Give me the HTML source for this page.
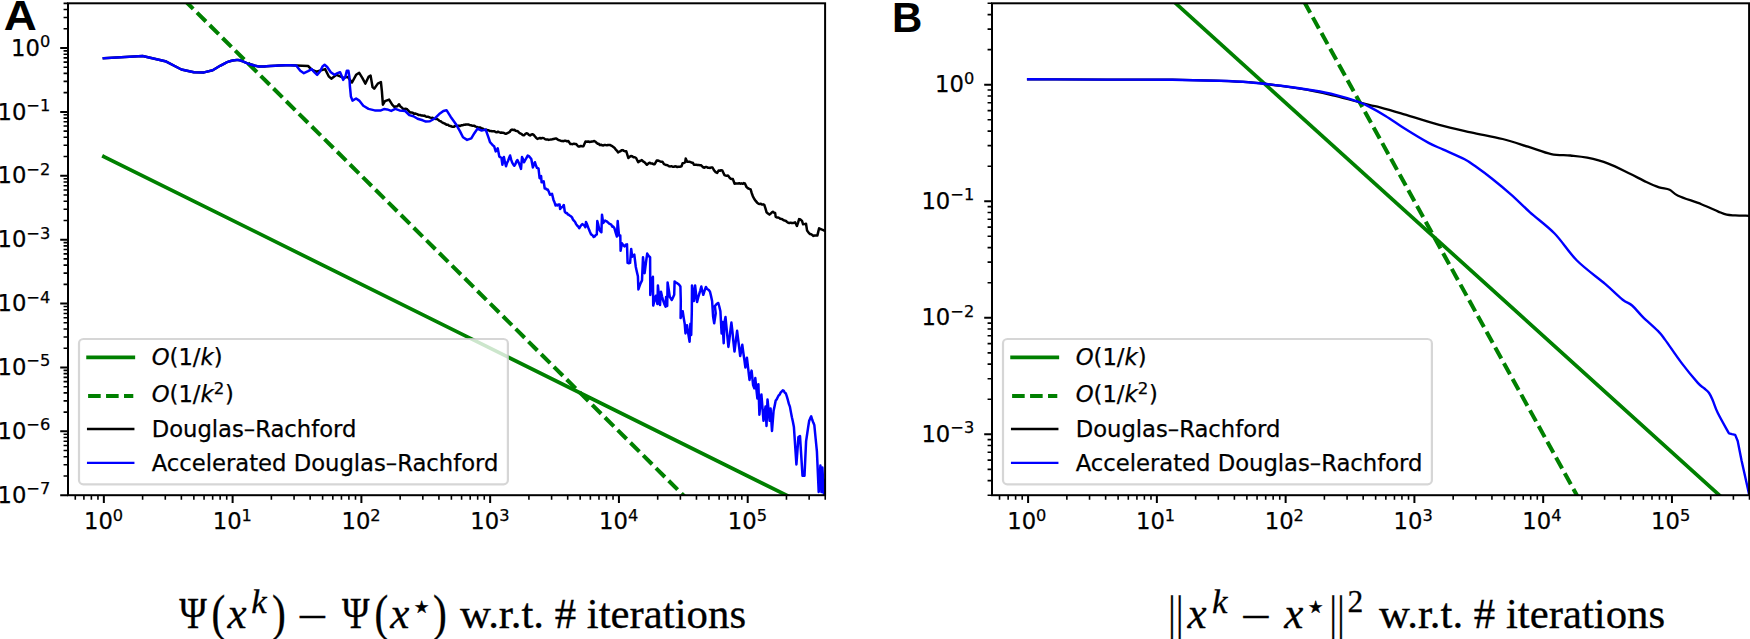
<!DOCTYPE html>
<html><head><meta charset="utf-8"><title>Figure</title>
<style>
html,body{margin:0;padding:0;background:#fff;}
svg{display:block;}
.tl,.lg{font-family:"DejaVu Sans","Liberation Sans",sans-serif;font-size:22.7px;fill:#000;stroke:#000;stroke-width:0.25px;}
.sp{font-size:16.2px;}
.it{font-style:oblique;}
.pl{font-family:"Liberation Sans",sans-serif;font-weight:bold;font-size:42px;fill:#000;}
.cp{font-family:"Liberation Serif",serif;font-size:42px;fill:#000;stroke:#000;stroke-width:0.3px;}
.mi{font-family:"Liberation Serif",serif;font-style:italic;}
</style></head><body>
<svg width="1750" height="639" viewBox="0 0 1750 639">
<rect width="1750" height="639" fill="#fff"/>
<defs>
<clipPath id="ca"><rect x="68.0" y="3.3" width="757.1" height="491.9"/></clipPath>
<clipPath id="cb"><rect x="992.0" y="3.3" width="757.1" height="491.9"/></clipPath>
</defs>
<g clip-path="url(#ca)" fill="none" stroke-linejoin="round">
<path d="M103.85 156.55 L825.23 514.46" stroke="#008000" stroke-width="3.7" stroke-linecap="square"/>
<path d="M184.25 -0 L825.23 636.05" stroke="#008000" stroke-width="4.05" stroke-dasharray="12.6 5.36"/>
<path d="M103.85 58.2 L142.6 56 L165.3 61.2 L181.4 69.5 L193.9 72.3 L204 72.4 L212.7 70.3 L220.1 65.8 L226.7 62.3 L226.7 62.3 C227.68 61.98 230.72 60.78 232.6 60.4 C234.48 60.02 236.28 59.83 238 60 C239.72 60.17 240.9 60.68 242.9 61.4 C244.9 62.12 247.38 63.47 250 64.3 C252.62 65.13 256.22 66.05 258.6 66.4 C260.98 66.75 260.97 66.57 264.3 66.4 C267.63 66.23 274.32 65.58 278.6 65.4 C282.88 65.22 288.1 65.32 290 65.3 L290 65.3 L296.2 65.5 L308.1 66 L311.7 69.6 L316.3 71.7 L325.1 69.1 L328.7 76.3 L331.3 78.7 L336.5 74.8 L343.7 77.9 L347.8 76.9 L352 82.5 L356.1 74.8 L359.2 72.9 L362.3 77.9 L365.4 83.6 L368.5 76.9 L370.6 75.6 L372.6 87.2 L374.2 88.7 L377.8 83.6 L380.9 82 L381.9 91.3 L382.9 104.7 L385 101.1 L389.1 99.6 L392.2 104.7 L394.3 106.8 L397.4 106.3 L399 104.2 L400.5 106.6 L401.8 107.51 L403.1 108.9 L404.3 108.94 L405.5 108.78 L406.7 108.9 L407.9 110.23 L409.1 111.48 L410.3 112.6 L411.52 112.51 L412.73 112.76 L413.95 113.8 L415.17 113.58 L416.38 113.86 L417.6 114.4 L418.74 115.1 L419.89 114.88 L421.03 115.47 L422.18 115.4 L423.32 115.8 L424.47 115.62 L425.61 116.31 L426.76 116.78 L427.9 116.7 L429.04 117.07 L430.19 117.61 L431.33 117.89 L432.48 117.69 L433.62 118.65 L434.77 118.85 L435.91 118.93 L437.06 119.03 L438.2 119.8 L439.44 120.85 L440.68 121.22 L441.92 122.16 L443.16 123.02 L444.4 123.4 L445.6 124.11 L446.8 124.81 L448 124.86 L449.2 125.74 L450.4 125.93 L451.6 126.5 L452.84 126.79 L454.08 126.64 L455.32 125.84 L456.56 125.77 L457.8 126 L458.96 125.55 L460.12 126.02 L461.29 125.34 L462.45 125.31 L463.61 124.82 L464.78 124.81 L465.94 124.5 L467.1 124.4 L468.32 124.5 L469.53 124.94 L470.75 125.18 L471.97 125.7 L473.18 125.73 L474.4 125.8 L475.57 126.59 L476.74 126.92 L477.91 127.44 L479.09 127.55 L480.26 127.5 L481.43 128.52 L482.6 128.6 L483.79 129.38 L484.97 129.68 L486.16 129.73 L487.34 130.22 L488.53 130.13 L489.71 131.04 L490.9 131.1 L492.07 131.32 L493.24 131.22 L494.41 131.18 L495.59 132.05 L496.76 132.33 L497.93 131.67 L499.1 132.2 L500.32 132.72 L501.53 132.62 L502.75 132.64 L503.97 133.01 L505.18 133.69 L506.4 133.7 L508.4 132.7 L509.63 132 L510.87 130.22 L512.1 129.6 L513.25 130.03 L514.4 129.84 L515.55 130.77 L516.7 130.9 L517.9 131.48 L519.1 132.71 L520.3 133.53 L521.5 133.84 L522.7 135.02 L523.9 135.3 L525.2 134.08 L526.5 133.2 L527.7 133.59 L528.9 134.82 L530.1 135.5 L531.4 134.43 L532.7 134.2 L533.88 135.1 L535.05 136.47 L536.23 137.82 L537.4 138.9 L538.67 138.34 L539.95 137.99 L541.23 138.48 L542.5 137.9 L543.74 138.13 L544.98 139.11 L546.22 139.46 L547.46 139.39 L548.7 139.9 L549.9 139.61 L551.1 139.42 L552.3 139.28 L553.5 138.99 L554.7 138.7 L555.9 138.4 L557.2 139.16 L558.5 140.1 L559.8 140.36 L561.1 141 L562.3 140.94 L563.5 141.2 L564.7 140.76 L565.9 140.82 L567.1 141.43 L568.3 141 L570.4 144.1 L571.56 144.12 L572.72 144.14 L573.88 143.66 L575.04 144.02 L576.2 144.1 L578.3 146.5 L579.57 146.5 L580.85 145.92 L582.12 146.38 L583.4 146.2 L585.5 141.5 L586.87 141.79 L588.23 141.44 L589.6 142 L590.77 141.86 L591.95 141.47 L593.12 141.41 L594.3 141 L595.42 141.69 L596.54 142.83 L597.66 143.67 L598.78 143.85 L599.9 145.1 L601.06 144.7 L602.21 145.26 L603.37 145.52 L604.52 144.88 L605.68 145.06 L606.83 145.18 L607.99 144.94 L609.14 144.98 L610.3 145.1 L611.67 145.8 L613.03 146.72 L614.4 147.7 L615.6 149.35 L616.8 150.65 L618 152.4 L619.2 151.59 L620.4 151.25 L621.6 150.3 L622.77 150.12 L623.95 150.86 L625.12 151.26 L626.3 151.3 L628.3 158 L629.6 156.83 L630.9 156 L632.2 156.25 L633.5 157.27 L634.8 157.26 L636.1 158 L638.2 162.2 L639.4 161.22 L640.6 160.74 L641.8 160.1 L643.07 161.45 L644.35 162.09 L645.62 163.46 L646.9 164.8 L648.2 163.6 L649.5 162.7 L650.8 163.38 L652.1 163.39 L653.4 164.14 L654.7 164.2 L656.7 160.6 L657.84 160.52 L658.98 160.89 L660.12 161.4 L661.26 161.83 L662.4 161.7 L664 164.2 L665.27 164.68 L666.55 165 L667.83 165.43 L669.1 166.3 L670.26 166.39 L671.42 166.15 L672.59 166.76 L673.75 166.85 L674.91 166.33 L676.08 166.48 L677.24 167.01 L678.4 166.8 L679.95 166.68 L681.5 166.3 L682.6 163.2 L683.9 162.98 L685.2 162.2 L685.7 158.6 L687.2 161.7 L688.34 161.76 L689.48 161.77 L690.62 162.11 L691.76 162.76 L692.9 162.7 L693.9 164.8 L695.12 164.68 L696.33 164.83 L697.55 164.98 L698.77 165.06 L699.98 165.14 L701.2 165.3 L703.2 167.3 L704.36 167.7 L705.53 167.04 L706.69 166.93 L707.85 167.8 L709.01 167.77 L710.17 167.89 L711.34 167.42 L712.5 167.5 L714.1 170.4 L715.65 172.11 L717.2 173 L718.7 170.4 L719.9 170.78 L721.1 170.15 L722.3 170.4 L724.4 175.1 L725.6 175.49 L726.8 175.74 L728 175.6 L729.3 177.3 L730.6 178.7 L731.75 178.92 L732.9 179.1 L734.6 183.7 L735.74 183.49 L736.89 183.51 L738.03 183.39 L739.18 183.22 L740.32 183.67 L741.47 183.37 L742.61 183.82 L743.76 183.11 L744.9 183.5 L746.6 187.1 L747.93 188.23 L749.27 188.81 L750.6 189.4 L751.75 193.23 L752.9 196.3 L754.3 198.96 L755.7 200.9 L757.15 202.66 L758.6 203.7 L759.74 204.01 L760.88 203.74 L762.02 204.64 L763.16 204.36 L764.3 204.9 L765.45 208.42 L766.6 212.3 L768 213.6 L769.4 214.6 L770.57 213.66 L771.73 212.59 L772.9 211.7 L774 212.7 L775.1 212.9 L775.7 216.9 L776.84 217.4 L777.98 217.56 L779.12 217.88 L780.26 218.83 L781.4 218.9 L782.54 219.48 L783.69 220.35 L784.83 220.57 L785.97 221.03 L787.11 221.93 L788.26 222.79 L789.4 223.1 L790.54 222.64 L791.68 223.04 L792.82 223 L793.96 222.74 L795.1 222.3 L796.9 226 L798 222.84 L799.1 219.1 L800.55 219.56 L802 220.9 L803.1 224.3 L804.55 224.12 L806 223.7 L807.1 230.6 L808.55 232.63 L810 234 L811.13 234.23 L812.27 235.06 L813.4 235.9 L814.73 235.53 L816.07 235.59 L817.4 235.4 L819.1 228.3 L820.25 228.78 L821.4 229.4 L822.6 229.78 L823.8 230.45 L825 230.6" stroke="#000" stroke-width="2.5" stroke-linecap="square"/>
<path d="M103.85 58.2 L142.6 56 L165.3 61.2 L181.4 69.5 L193.9 72.3 L204 72.4 L212.7 70.3 L220.1 65.8 L226.7 62.3 L226.7 62.3 C227.68 61.98 230.72 60.78 232.6 60.4 C234.48 60.02 236.28 59.83 238 60 C239.72 60.17 240.9 60.68 242.9 61.4 C244.9 62.12 247.38 63.47 250 64.3 C252.62 65.13 256.22 66.05 258.6 66.4 C260.98 66.75 260.97 66.57 264.3 66.4 C267.63 66.23 274.32 65.58 278.6 65.4 C282.88 65.22 287.07 65.28 290 65.3 C292.93 65.32 295.17 65.47 296.2 65.5 L296.2 65.5 L300.3 70.7 L303.9 73.2 L308.1 71.2 L311.7 69.1 L314.8 72.7 L317.1 74.8 L319.9 71.7 L322.5 66.5 L324.6 64.8 L327.2 67 L330.8 72.2 L334.4 74.8 L337.5 73.2 L340.1 72.2 L341.6 75.8 L343.2 79.9 L345.3 76.9 L346.8 70.7 L348.4 70.7 L349.4 76.9 L349.9 86.1 L350.9 96.5 L352.5 100.6 L356.1 98.5 L359.2 100.6 L363.3 105.8 L368.5 108.9 L374.7 110.4 L380.9 110.4 L384 109.1 L387.1 109.4 L391.2 110.9 L395.3 108.9 L399.5 110.4 L405.2 111 L409.3 115.1 L413.4 116.2 L417.6 118.8 L422.7 120.3 L425.8 121.6 L429.9 121.3 L435.1 118.2 L439.2 114.1 L443.4 111 L446.5 110.2 L450.6 116.7 L455.8 123.9 L459.9 131.1 L463 137.3 L467.1 139.9 L471.3 138.4 L474.4 133.2 L477.5 128.6 L481.6 130.6 L485.7 129.6 L488.8 138.4 L490 142.1 L491.02 143.27 L492.05 144.44 L493.08 145.53 L494.1 146.2 L495.7 151.4 L496.7 150.38 L497.7 148.3 L499.3 156.5 L500.35 157.34 L501.4 157.6 L502.4 164.8 L503.9 157 L504.95 162.16 L506 166.3 L507.05 162.93 L508.1 160.7 L509.1 158.06 L510.1 155.5 L511.15 159.63 L512.2 162.7 L513.25 164.43 L514.3 165.8 L515.33 164.38 L516.37 161.54 L517.4 160.1 L518.4 162.16 L519.4 164.3 L521 168.9 L522 157 L523.05 159.3 L524.1 162.2 L525.3 160.02 L526.5 157.82 L527.7 155.5 L528.9 156.12 L530.1 157.56 L531.3 159.1 L532.9 167.4 L533.9 164.54 L534.9 162.2 L535.95 165.55 L537 167.9 L538.5 168.4 L539.6 178.2 L541.1 176.1 L541.6 182.3 L542.65 182.12 L543.7 181.3 L544.7 188.5 L545.73 188.46 L546.77 189.59 L547.8 189.6 L548.85 191.72 L549.9 194.7 L550.95 194.34 L552 193.7 L553.5 199.9 L554.5 202.25 L555.5 205.5 L556.52 204.65 L557.55 205.45 L558.58 204.4 L559.6 204.5 L560.1 209.1 L561.33 207.39 L562.57 206.95 L563.8 205 L564.8 211.7 L565.83 212.91 L566.87 212.98 L567.9 214.55 L568.93 214.81 L569.97 215.75 L571 216.3 L572.02 217.37 L573.05 219.68 L574.08 220.8 L575.1 222 L576.12 224.11 L577.15 225.57 L578.18 226.41 L579.2 228.2 L580.23 226.67 L581.27 225.07 L582.3 224.1 L583.33 224.71 L584.37 225.64 L585.4 227.2 L586 222 L587.25 224.86 L588.5 228.2 L589.8 231.42 L591.1 234.4 L592.4 235.1 L593.7 237 L594.73 236.35 L595.77 235.07 L596.8 234.4 L597.3 221 L598.35 225.17 L599.4 229.8 L600.4 231.43 L601.4 232.3 L602 214.8 L603.2 223 L605.1 220.5 L606.12 221.2 L607.14 221.72 L608.16 222.64 L609.18 223.63 L610.2 224.1 L611.25 224.59 L612.3 226.72 L613.35 226.6 L614.4 228.2 L615.65 232.65 L616.9 236.5 L617.7 221 L619 235.4 L620.3 235.5 L620.6 250.7 L621.9 243.3 L623.2 245.26 L624.5 246.4 L625.75 244.77 L627 244.3 L627.6 262.9 L628.85 263.25 L630.1 262.9 L631.2 248.9 L632.2 256.7 L633.25 255.49 L634.3 254.6 L635.8 267 L636.85 271.74 L637.9 276.3 L638.4 289.4 L639.6 285.81 L640.8 282.86 L642 280.4 L643 257.2 L644.6 273.2 L645.9 263.02 L647.2 253.6 L648.65 255.95 L650.1 257.2 L650.3 294.9 L651.3 281.5 L652.9 276.8 L653.2 305.6 L654.5 300.34 L655.8 295.8 L657.4 304.1 L657.9 285.5 L658.95 295.61 L660 305.1 L661 291.7 L662 296.37 L663 300 L664.3 303.88 L665.6 306.7 L666.1 296.9 L667.2 306.1 L667.6 282.4 L668.7 289.46 L669.8 296.9 L670.8 298.28 L671.8 300 L673 297.43 L674.2 294.8 L674.6 281.4 L676.05 282.73 L677.5 283.4 L678.95 284.48 L680.4 286.5 L680.8 301 L680.6 318 L681.65 314.95 L682.7 311.3 L683.7 317.86 L684.7 323.7 L685.5 333.4 L687 325.2 L688.3 333.88 L689.6 341.7 L690.4 323.7 L691.2 335 L691.8 312 L692 285.5 L693 292.69 L694 301 L695.1 285.5 L696.1 294.28 L697.1 302 L698.15 297.63 L699.2 294.06 L700.25 290.51 L701.3 286.5 L702.3 291.15 L703.3 294.8 L704.6 290.71 L705.9 287 L706.92 288.68 L707.95 289.4 L708.98 290.3 L710 291.7 L711.05 296.13 L712.1 301 L713.1 316.5 L714.2 323.2 L715.7 313.4 L714.9 306.1 L716.03 304.68 L717.17 303.53 L718.3 303 L719.35 306.73 L720.4 311.3 L721.6 333.4 L722.5 322 L723.7 343.2 L724.5 322 L725.5 317 L726.95 332.18 L728.4 346.9 L729.4 339.4 L730.4 330.29 L731.4 322.6 L732.43 331.69 L733.47 342.45 L734.5 351.5 L735.8 341.19 L737.1 330.8 L738.13 339.12 L739.17 347.35 L740.2 356.1 L741.25 350.56 L742.3 344.8 L743.33 352.76 L744.37 359.88 L745.4 367.5 L746.9 357.7 L748.2 368.71 L749.5 379.9 L750.55 374.72 L751.6 370.6 L753.1 385.1 L754.3 388.3 L755.3 378.1 L756.35 388.8 L757.4 398.5 L758.4 384.2 L759.4 414.7 L760.4 403.99 L761.4 394.4 L762.45 407.59 L763.5 420.8 L764.5 414.11 L765.5 406.6 L766.5 425.9 L767.5 399.5 L768.55 409.71 L769.6 420.8 L770.6 408.6 L772 431 L773.6 410.7 L774.65 405.88 L775.7 400.5 L776.7 399.34 L777.7 397.26 L778.7 395.4 L779.73 394.47 L780.75 392.38 L781.77 391.5 L782.8 390.3 L783.8 390.91 L784.8 392.78 L785.8 393.4 L786.82 396.45 L787.85 399.94 L788.88 403.9 L789.9 406.6 L790.9 412.1 L791.9 417.32 L792.9 421.77 L793.9 426.9 L795.15 445.69 L796.4 464.5 L797.4 451.08 L798.4 437.1 L800 436.1 L801.25 455.87 L802.5 475.7 L803.5 475.45 L804.5 475.7 L806.1 441.1 L807.13 434.22 L808.17 427.14 L809.2 420.8 L810.2 418.4 L811.2 416.3 L812.23 419.75 L813.27 422.59 L814.3 424.9 L815.6 438.25 L816.9 451.3 L818.7 492 L820.4 465.5 L821.4 492 L822.4 467.6 L823.8 494 L825 480" stroke="#0000ff" stroke-width="2.5" stroke-linecap="square"/>
</g>
<rect x="79" y="339" width="428.9" height="145.3" rx="4.4" ry="4.4" fill="#fff" fill-opacity="0.8" stroke="#ccc" stroke-opacity="0.8" stroke-width="2.2"/>
<path d="M88.1 357.4H133.3" stroke="#008000" stroke-width="3.7" stroke-linecap="square"/>
<path d="M88.1 395.9H133.3" stroke="#008000" stroke-width="4.05" stroke-dasharray="12.6 5.36" stroke-linecap="butt"/>
<path d="M88.1 429H133.3" stroke="#000" stroke-width="2.3" stroke-linecap="square"/>
<path d="M88.1 462.9H133.3" stroke="#0000ff" stroke-width="2.3" stroke-linecap="square"/>
<text class="lg" x="151.7" y="365.4"><tspan class="it">O</tspan>(1/<tspan class="it">k</tspan>)</text>
<text class="lg" x="151.7" y="402.3"><tspan class="it">O</tspan>(1/<tspan class="it">k</tspan><tspan class="sp" dy="-8.4" style="font-size:16.6px">2</tspan><tspan dy="8.4" dx="0.8">)</tspan></text>
<text class="lg" x="151.7" y="437.0">Douglas–Rachford</text>
<text class="lg" x="151.7" y="470.7">Accelerated Douglas–Rachford</text>
<path d="M103.85 495.2v7.8M232.62 495.2v7.8M361.39 495.2v7.8M490.16 495.2v7.8M618.93 495.2v7.8M747.7 495.2v7.8" stroke="#000" stroke-width="2" fill="none"/>
<path d="M75.28 495.2v4.44M83.9 495.2v4.44M91.37 495.2v4.44M97.96 495.2v4.44M142.61 495.2v4.44M165.29 495.2v4.44M181.38 495.2v4.44M193.86 495.2v4.44M204.05 495.2v4.44M212.67 495.2v4.44M220.14 495.2v4.44M226.73 495.2v4.44M271.38 495.2v4.44M294.06 495.2v4.44M310.15 495.2v4.44M322.63 495.2v4.44M332.82 495.2v4.44M341.44 495.2v4.44M348.91 495.2v4.44M355.5 495.2v4.44M400.15 495.2v4.44M422.83 495.2v4.44M438.92 495.2v4.44M451.4 495.2v4.44M461.59 495.2v4.44M470.21 495.2v4.44M477.68 495.2v4.44M484.27 495.2v4.44M528.92 495.2v4.44M551.6 495.2v4.44M567.69 495.2v4.44M580.17 495.2v4.44M590.36 495.2v4.44M598.98 495.2v4.44M606.45 495.2v4.44M613.04 495.2v4.44M657.69 495.2v4.44M680.37 495.2v4.44M696.46 495.2v4.44M708.94 495.2v4.44M719.13 495.2v4.44M727.75 495.2v4.44M735.22 495.2v4.44M741.81 495.2v4.44M786.46 495.2v4.44M809.14 495.2v4.44M825.23 495.2v4.44" stroke="#000" stroke-width="1.6" fill="none"/>
<path d="M68 495.23h-7.8M68 431.34h-7.8M68 367.45h-7.8M68 303.56h-7.8M68 239.67h-7.8M68 175.78h-7.8M68 111.89h-7.8M68 48h-7.8" stroke="#000" stroke-width="2" fill="none"/>
<path d="M68 476h-4.44M68 464.75h-4.44M68 456.76h-4.44M68 450.57h-4.44M68 445.51h-4.44M68 441.24h-4.44M68 437.53h-4.44M68 434.26h-4.44M68 412.11h-4.44M68 400.86h-4.44M68 392.87h-4.44M68 386.68h-4.44M68 381.62h-4.44M68 377.35h-4.44M68 373.64h-4.44M68 370.37h-4.44M68 348.22h-4.44M68 336.97h-4.44M68 328.98h-4.44M68 322.79h-4.44M68 317.73h-4.44M68 313.46h-4.44M68 309.75h-4.44M68 306.48h-4.44M68 284.33h-4.44M68 273.08h-4.44M68 265.09h-4.44M68 258.9h-4.44M68 253.84h-4.44M68 249.57h-4.44M68 245.86h-4.44M68 242.59h-4.44M68 220.44h-4.44M68 209.19h-4.44M68 201.2h-4.44M68 195.01h-4.44M68 189.95h-4.44M68 185.68h-4.44M68 181.97h-4.44M68 178.7h-4.44M68 156.55h-4.44M68 145.3h-4.44M68 137.31h-4.44M68 131.12h-4.44M68 126.06h-4.44M68 121.79h-4.44M68 118.08h-4.44M68 114.81h-4.44M68 92.66h-4.44M68 81.41h-4.44M68 73.42h-4.44M68 67.23h-4.44M68 62.17h-4.44M68 57.9h-4.44M68 54.19h-4.44M68 50.92h-4.44M68 28.77h-4.44M68 17.52h-4.44M68 9.53h-4.44M68 3.34h-4.44" stroke="#000" stroke-width="1.6" fill="none"/>
<text class="tl" x="103.55" y="529.4" text-anchor="middle">10<tspan class="sp" dy="-8.7">0</tspan></text>
<text class="tl" x="232.32" y="529.4" text-anchor="middle">10<tspan class="sp" dy="-8.7">1</tspan></text>
<text class="tl" x="361.09" y="529.4" text-anchor="middle">10<tspan class="sp" dy="-8.7">2</tspan></text>
<text class="tl" x="489.86" y="529.4" text-anchor="middle">10<tspan class="sp" dy="-8.7">3</tspan></text>
<text class="tl" x="618.63" y="529.4" text-anchor="middle">10<tspan class="sp" dy="-8.7">4</tspan></text>
<text class="tl" x="747.4" y="529.4" text-anchor="middle">10<tspan class="sp" dy="-8.7">5</tspan></text>
<text class="tl" x="50.2" y="502.93" text-anchor="end">10<tspan class="sp" dy="-8.7">−7</tspan></text>
<text class="tl" x="50.2" y="439.04" text-anchor="end">10<tspan class="sp" dy="-8.7">−6</tspan></text>
<text class="tl" x="50.2" y="375.15" text-anchor="end">10<tspan class="sp" dy="-8.7">−5</tspan></text>
<text class="tl" x="50.2" y="311.26" text-anchor="end">10<tspan class="sp" dy="-8.7">−4</tspan></text>
<text class="tl" x="50.2" y="247.37" text-anchor="end">10<tspan class="sp" dy="-8.7">−3</tspan></text>
<text class="tl" x="50.2" y="183.48" text-anchor="end">10<tspan class="sp" dy="-8.7">−2</tspan></text>
<text class="tl" x="50.2" y="119.59" text-anchor="end">10<tspan class="sp" dy="-8.7">−1</tspan></text>
<text class="tl" x="50.2" y="55.7" text-anchor="end">10<tspan class="sp" dy="-8.7">0</tspan></text>
<rect x="68" y="3.3" width="757.1" height="491.9" fill="none" stroke="#000" stroke-width="2"/>
<g clip-path="url(#cb)" fill="none" stroke-linejoin="round">
<path d="M1028.1 -130.23 L1749.48 522.46" stroke="#008000" stroke-width="3.7" stroke-linecap="square"/>
<path d="M1304.11 1.66 L1749.48 807.58" stroke="#008000" stroke-width="4.05" stroke-dasharray="12.6 5.36"/>
<path d="M1028.1 79.3 C1032.75 79.32 1042.85 79.35 1056 79.4 C1069.15 79.45 1087.62 79.55 1107 79.6 C1126.38 79.65 1154.17 79.52 1172.3 79.7 C1190.43 79.88 1203.12 80.28 1215.8 80.7 C1228.48 81.12 1237.53 81.33 1248.4 82.2 C1259.27 83.07 1270.12 84.43 1281 85.9 C1291.88 87.37 1304.63 89.33 1313.7 91 C1322.77 92.67 1326.33 93.63 1335.4 95.9 C1344.47 98.17 1360.67 102.7 1368.1 104.6 C1375.53 106.5 1374.5 105.85 1380 107.3 C1385.5 108.75 1391.23 110.37 1401.1 113.3 C1410.97 116.23 1427.57 121.73 1439.2 124.9 C1450.83 128.07 1460.33 129.95 1470.9 132.3 C1481.47 134.65 1493.08 136.6 1502.6 139 C1512.12 141.4 1519.9 144.18 1528 146.7 C1536.1 149.22 1544.15 152.63 1551.2 154.1 C1558.25 155.57 1564.3 154.9 1570.3 155.5 C1576.3 156.1 1580.87 156.35 1587.2 157.7 C1593.53 159.05 1601.25 160.97 1608.3 163.6 C1615.35 166.23 1623.15 170.43 1629.5 173.5 C1635.85 176.57 1641.47 179.7 1646.4 182 C1651.33 184.3 1655.23 186 1659.1 187.3 C1662.97 188.6 1666.43 188.4 1669.6 189.8 C1672.77 191.2 1672.8 193.3 1678.1 195.7 C1683.4 198.1 1694.7 201.55 1701.4 204.2 C1708.1 206.85 1714.08 209.85 1718.3 211.6 C1722.52 213.35 1723.88 214.07 1726.7 214.7 C1729.52 215.33 1731.48 215.22 1735.2 215.4 C1738.92 215.58 1746.7 215.73 1749 215.8" stroke="#000" stroke-width="2.3" stroke-linecap="square"/>
<path d="M1028.1 79.3 C1032.75 79.32 1042.85 79.35 1056 79.4 C1069.15 79.45 1087.62 79.55 1107 79.6 C1126.38 79.65 1154.17 79.52 1172.3 79.7 C1190.43 79.88 1203.12 80.28 1215.8 80.7 C1228.48 81.12 1237.53 81.37 1248.4 82.2 C1259.27 83.03 1270.12 84.32 1281 85.7 C1291.88 87.08 1304.63 88.98 1313.7 90.5 C1322.77 92.02 1328.15 93 1335.4 94.8 C1342.65 96.6 1351.75 99.42 1357.2 101.3 C1362.65 103.18 1363.38 103.67 1368.1 106.1 C1372.82 108.53 1379.28 112.07 1385.5 115.9 C1391.72 119.73 1398.22 124.6 1405.4 129.1 C1412.58 133.6 1422.27 139.48 1428.6 142.9 C1434.93 146.32 1437.4 146.87 1443.4 149.6 C1449.4 152.33 1459.32 156.55 1464.6 159.3 C1469.88 162.05 1470.52 162.85 1475.1 166.1 C1479.68 169.35 1486.1 174.03 1492.1 178.8 C1498.1 183.57 1504.78 189.12 1511.1 194.7 C1517.42 200.28 1522.75 205.83 1530 212.3 C1537.25 218.77 1546.78 225.47 1554.6 233.5 C1562.42 241.53 1568.48 252.1 1576.9 260.5 C1585.32 268.9 1597.47 277.37 1605.1 283.9 C1612.73 290.43 1618.2 296.1 1622.7 299.7 C1627.2 303.3 1628.77 302.65 1632.1 305.5 C1635.43 308.35 1638.4 312.57 1642.7 316.8 C1647 321.03 1654.18 327.1 1657.9 330.9 C1661.62 334.7 1661.1 334.32 1665 339.6 C1668.9 344.88 1675.87 355.43 1681.3 362.6 C1686.73 369.77 1693.82 378.33 1697.6 382.6 C1701.38 386.87 1702.12 386.5 1704 388.2 C1705.88 389.9 1707.45 390.8 1708.9 392.8 C1710.35 394.8 1711.23 396.88 1712.7 400.2 C1714.17 403.52 1715 407.18 1717.7 412.7 C1720.4 418.22 1727.03 429.87 1728.9 433.3 L1728.9 433.3 L1732 434.2 L1735.2 434.9 L1737.7 441 L1741.5 460.3 L1747.7 487.9 L1749 494" stroke="#0000ff" stroke-width="2.4" stroke-linecap="square"/>
</g>
<rect x="1003" y="339" width="428.9" height="145.3" rx="4.4" ry="4.4" fill="#fff" fill-opacity="0.8" stroke="#ccc" stroke-opacity="0.8" stroke-width="2.2"/>
<path d="M1012.1 357.4H1057.3" stroke="#008000" stroke-width="3.7" stroke-linecap="square"/>
<path d="M1012.1 395.9H1057.3" stroke="#008000" stroke-width="4.05" stroke-dasharray="12.6 5.36" stroke-linecap="butt"/>
<path d="M1012.1 429H1057.3" stroke="#000" stroke-width="2.3" stroke-linecap="square"/>
<path d="M1012.1 462.9H1057.3" stroke="#0000ff" stroke-width="2.3" stroke-linecap="square"/>
<text class="lg" x="1075.7" y="365.4"><tspan class="it">O</tspan>(1/<tspan class="it">k</tspan>)</text>
<text class="lg" x="1075.7" y="402.3"><tspan class="it">O</tspan>(1/<tspan class="it">k</tspan><tspan class="sp" dy="-8.4" style="font-size:16.6px">2</tspan><tspan dy="8.4" dx="0.8">)</tspan></text>
<text class="lg" x="1075.7" y="437.0">Douglas–Rachford</text>
<text class="lg" x="1075.7" y="470.7">Accelerated Douglas–Rachford</text>
<path d="M1028.1 495.2v7.8M1156.87 495.2v7.8M1285.64 495.2v7.8M1414.41 495.2v7.8M1543.18 495.2v7.8M1671.95 495.2v7.8" stroke="#000" stroke-width="2" fill="none"/>
<path d="M999.53 495.2v4.44M1008.15 495.2v4.44M1015.62 495.2v4.44M1022.21 495.2v4.44M1066.86 495.2v4.44M1089.54 495.2v4.44M1105.63 495.2v4.44M1118.11 495.2v4.44M1128.3 495.2v4.44M1136.92 495.2v4.44M1144.39 495.2v4.44M1150.98 495.2v4.44M1195.63 495.2v4.44M1218.31 495.2v4.44M1234.4 495.2v4.44M1246.88 495.2v4.44M1257.07 495.2v4.44M1265.69 495.2v4.44M1273.16 495.2v4.44M1279.75 495.2v4.44M1324.4 495.2v4.44M1347.08 495.2v4.44M1363.17 495.2v4.44M1375.65 495.2v4.44M1385.84 495.2v4.44M1394.46 495.2v4.44M1401.93 495.2v4.44M1408.52 495.2v4.44M1453.17 495.2v4.44M1475.85 495.2v4.44M1491.94 495.2v4.44M1504.42 495.2v4.44M1514.61 495.2v4.44M1523.23 495.2v4.44M1530.7 495.2v4.44M1537.29 495.2v4.44M1581.94 495.2v4.44M1604.62 495.2v4.44M1620.71 495.2v4.44M1633.19 495.2v4.44M1643.38 495.2v4.44M1652 495.2v4.44M1659.47 495.2v4.44M1666.06 495.2v4.44M1710.71 495.2v4.44M1733.39 495.2v4.44M1749.48 495.2v4.44" stroke="#000" stroke-width="1.6" fill="none"/>
<path d="M992 434.27h-7.8M992 317.76h-7.8M992 201.25h-7.8M992 84.74h-7.8" stroke="#000" stroke-width="2" fill="none"/>
<path d="M992 495.19h-4.44M992 480.63h-4.44M992 469.34h-4.44M992 460.12h-4.44M992 452.32h-4.44M992 445.56h-4.44M992 439.6h-4.44M992 399.2h-4.44M992 378.68h-4.44M992 364.12h-4.44M992 352.83h-4.44M992 343.61h-4.44M992 335.81h-4.44M992 329.05h-4.44M992 323.09h-4.44M992 282.69h-4.44M992 262.17h-4.44M992 247.61h-4.44M992 236.32h-4.44M992 227.1h-4.44M992 219.3h-4.44M992 212.54h-4.44M992 206.58h-4.44M992 166.18h-4.44M992 145.66h-4.44M992 131.1h-4.44M992 119.81h-4.44M992 110.59h-4.44M992 102.79h-4.44M992 96.03h-4.44M992 90.07h-4.44M992 49.67h-4.44M992 29.15h-4.44M992 14.59h-4.44M992 3.3h-4.44" stroke="#000" stroke-width="1.6" fill="none"/>
<text class="tl" x="1026.8" y="529.4" text-anchor="middle">10<tspan class="sp" dy="-8.7">0</tspan></text>
<text class="tl" x="1155.57" y="529.4" text-anchor="middle">10<tspan class="sp" dy="-8.7">1</tspan></text>
<text class="tl" x="1284.34" y="529.4" text-anchor="middle">10<tspan class="sp" dy="-8.7">2</tspan></text>
<text class="tl" x="1413.11" y="529.4" text-anchor="middle">10<tspan class="sp" dy="-8.7">3</tspan></text>
<text class="tl" x="1541.88" y="529.4" text-anchor="middle">10<tspan class="sp" dy="-8.7">4</tspan></text>
<text class="tl" x="1670.65" y="529.4" text-anchor="middle">10<tspan class="sp" dy="-8.7">5</tspan></text>
<text class="tl" x="974.2" y="441.97" text-anchor="end">10<tspan class="sp" dy="-8.7">−3</tspan></text>
<text class="tl" x="974.2" y="325.46" text-anchor="end">10<tspan class="sp" dy="-8.7">−2</tspan></text>
<text class="tl" x="974.2" y="208.95" text-anchor="end">10<tspan class="sp" dy="-8.7">−1</tspan></text>
<text class="tl" x="974.2" y="92.44" text-anchor="end">10<tspan class="sp" dy="-8.7">0</tspan></text>
<rect x="992" y="3.3" width="757.1" height="491.9" fill="none" stroke="#000" stroke-width="2"/>
<text class="pl" transform="translate(3.8 29.7) scale(1.09 1.03)">A</text>
<text class="pl" x="891.9" y="32">B</text>
<text class="cp" transform="translate(179.2 627.7) scale(0.89 1.05)" style="font-size:42px">Ψ</text>
<text class="cp" transform="translate(211.6 630.2) scale(0.9 1.12)" style="font-size:46px">(</text>
<text class="cp mi" transform="translate(227.4 627.7) scale(1 1.03)" style="font-size:43px">x</text>
<text class="cp mi" transform="translate(251.2 612.6) scale(1.05 1)" style="font-size:33px">k</text>
<text class="cp" transform="translate(272 630.2) scale(0.9 1.12)" style="font-size:46px">)</text>
<text class="cp" transform="translate(296.9 631) scale(1.3 1)" style="font-size:42px">−</text>
<text class="cp" transform="translate(342.1 627.7) scale(0.89 1.05)" style="font-size:42px">Ψ</text>
<text class="cp" transform="translate(374.4 630.2) scale(0.9 1.12)" style="font-size:46px">(</text>
<text class="cp mi" transform="translate(390.3 627.7) scale(1 1.03)" style="font-size:43px">x</text>
<text class="cp" transform="translate(410.7 618.1) scale(1 1)" style="font-size:34px">⋆</text>
<text class="cp" transform="translate(433.1 630.2) scale(0.9 1.12)" style="font-size:46px">)</text>
<text class="cp" transform="translate(460 627.7) scale(1 1)" style="font-size:42.8px">w.r.t. # iterations</text>
<text class="cp" transform="translate(1168.2 633.2) scale(0.8 1.15)" style="font-size:46px;letter-spacing:0.6px">||</text>
<text class="cp mi" transform="translate(1187.4 627.7) scale(1 1.03)" style="font-size:43px">x</text>
<text class="cp mi" transform="translate(1212 612.6) scale(1.05 1)" style="font-size:33px">k</text>
<text class="cp" transform="translate(1240.6 631) scale(1.3 1)" style="font-size:42px">−</text>
<text class="cp mi" transform="translate(1284.3 627.7) scale(1 1.03)" style="font-size:43px">x</text>
<text class="cp" transform="translate(1304.7 618.1) scale(1 1)" style="font-size:34px">⋆</text>
<text class="cp" transform="translate(1329.4 633.2) scale(0.8 1.15)" style="font-size:46px;letter-spacing:0.6px">||</text>
<text class="cp" transform="translate(1347.4 611.7) scale(1 1)" style="font-size:31.5px">2</text>
<text class="cp" transform="translate(1379.1 627.7) scale(1 1)" style="font-size:42.8px">w.r.t. # iterations</text>
</svg></body></html>
